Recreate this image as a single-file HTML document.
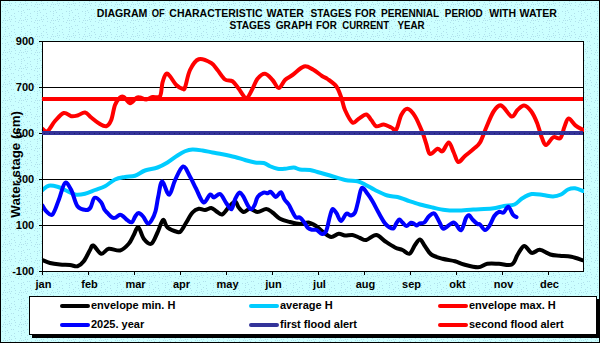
<!DOCTYPE html>
<html><head><meta charset="utf-8"><style>
html,body{margin:0;padding:0;width:600px;height:343px;overflow:hidden;background:#fff}
svg{display:block}
text{font-family:"Liberation Sans",sans-serif;font-weight:bold;fill:#000}
</style></head><body>
<svg width="600" height="343" viewBox="0 0 600 343">
<defs>
<pattern id="dots" width="16" height="16" patternUnits="userSpaceOnUse"><rect width="16" height="16" fill="#CCFFFF"/><rect x="4" y="2" width="1" height="1" fill="#B0E0EB"/><rect x="5" y="11" width="1" height="1" fill="#B0E0EB"/><rect x="8" y="12" width="1" height="1" fill="#B0E0EB"/><rect x="10" y="5" width="1" height="1" fill="#B0E0EB"/><rect x="5" y="15" width="1" height="1" fill="#B0E0EB"/><rect x="15" y="5" width="1" height="1" fill="#B0E0EB"/><rect x="2" y="6" width="1" height="1" fill="#B0E0EB"/><rect x="14" y="13" width="1" height="1" fill="#B0E0EB"/><rect x="11" y="3" width="1" height="1" fill="#B0E0EB"/><rect x="11" y="15" width="1" height="1" fill="#B0E0EB"/><rect x="2" y="11" width="1" height="1" fill="#B0E0EB"/><rect x="5" y="4" width="1" height="1" fill="#B0E0EB"/><rect x="5" y="7" width="1" height="1" fill="#B0E0EB"/><rect x="13" y="9" width="1" height="1" fill="#B0E0EB"/><rect x="11" y="9" width="1" height="1" fill="#B0E0EB"/><rect x="15" y="2" width="1" height="1" fill="#B0E0EB"/><rect x="7" y="10" width="1" height="1" fill="#B0E0EB"/><rect x="5" y="13" width="1" height="1" fill="#B0E0EB"/><rect x="3" y="4" width="1" height="1" fill="#B0E0EB"/><rect x="9" y="1" width="1" height="1" fill="#B0E0EB"/><rect x="7" y="4" width="1" height="1" fill="#B0E0EB"/><rect x="9" y="3" width="1" height="1" fill="#B0E0EB"/><rect x="14" y="0" width="1" height="1" fill="#B0E0EB"/></pattern>
<clipPath id="pc"><rect x="43" y="30" width="541" height="250"/></clipPath><clipPath id="pc2"><rect x="42" y="30" width="542" height="250"/></clipPath>
</defs>
<rect x="0.5" y="0.5" width="599" height="342" fill="url(#dots)" stroke="#000" stroke-width="1"/>
<g font-size="10.5"><text x="96.89" y="16.7" textLength="50.53" lengthAdjust="spacingAndGlyphs">DIAGRAM</text><text x="151.75" y="16.7" textLength="13.03" lengthAdjust="spacingAndGlyphs">OF</text><text x="169.30" y="16.7" textLength="93.29" lengthAdjust="spacingAndGlyphs">CHARACTERISTIC</text><text x="266.50" y="16.7" textLength="37.39" lengthAdjust="spacingAndGlyphs">WATER</text><text x="310.50" y="16.7" textLength="41.14" lengthAdjust="spacingAndGlyphs">STAGES</text><text x="355.06" y="16.7" textLength="20.85" lengthAdjust="spacingAndGlyphs">FOR</text><text x="381.04" y="16.7" textLength="58.12" lengthAdjust="spacingAndGlyphs">PERENNIAL</text><text x="444.81" y="16.7" textLength="37.94" lengthAdjust="spacingAndGlyphs">PERIOD</text><text x="489.25" y="16.7" textLength="26.83" lengthAdjust="spacingAndGlyphs">WITH</text><text x="519.50" y="16.7" textLength="37.39" lengthAdjust="spacingAndGlyphs">WATER</text><text x="229.50" y="28.7" textLength="41.14" lengthAdjust="spacingAndGlyphs">STAGES</text><text x="275.75" y="28.7" textLength="36.44" lengthAdjust="spacingAndGlyphs">GRAPH</text><text x="316.06" y="28.7" textLength="20.80" lengthAdjust="spacingAndGlyphs">FOR</text><text x="342.30" y="28.7" textLength="46.76" lengthAdjust="spacingAndGlyphs">CURRENT</text><text x="397.40" y="28.7" textLength="27.17" lengthAdjust="spacingAndGlyphs">YEAR</text></g>
<rect x="42.5" y="41.5" width="541" height="230" fill="#fff"/>
<g stroke="#000" stroke-width="1"><line x1="42" y1="87.5" x2="584" y2="87.5"/><line x1="42" y1="133.5" x2="584" y2="133.5"/><line x1="42" y1="179.5" x2="584" y2="179.5"/><line x1="42" y1="225.5" x2="584" y2="225.5"/><line x1="39" y1="41.5" x2="42" y2="41.5"/><line x1="39" y1="87.5" x2="42" y2="87.5"/><line x1="39" y1="133.5" x2="42" y2="133.5"/><line x1="39" y1="179.5" x2="42" y2="179.5"/><line x1="39" y1="225.5" x2="42" y2="225.5"/><line x1="39" y1="271.5" x2="42" y2="271.5"/><line x1="42.5" y1="271" x2="42.5" y2="275"/><line x1="88.5" y1="271" x2="88.5" y2="275"/><line x1="134.5" y1="271" x2="134.5" y2="275"/><line x1="180.5" y1="271" x2="180.5" y2="275"/><line x1="226.5" y1="271" x2="226.5" y2="275"/><line x1="272.5" y1="271" x2="272.5" y2="275"/><line x1="318.5" y1="271" x2="318.5" y2="275"/><line x1="364.5" y1="271" x2="364.5" y2="275"/><line x1="410.5" y1="271" x2="410.5" y2="275"/><line x1="456.5" y1="271" x2="456.5" y2="275"/><line x1="502.5" y1="271" x2="502.5" y2="275"/><line x1="548.5" y1="271" x2="548.5" y2="275"/></g>
<rect x="42.5" y="41.5" width="541" height="230" fill="none" stroke="#000" stroke-width="1"/>
<g font-size="11" text-anchor="end"><text x="34.2" y="45.2">900</text><text x="34.2" y="91.2">700</text><text x="34.2" y="137.2">500</text><text x="34.2" y="183.2">300</text><text x="34.2" y="229.2">100</text><text x="34.2" y="275.2">-100</text></g>
<g font-size="11" text-anchor="middle"><text x="43.5" y="288">jan</text><text x="89.5" y="288">feb</text><text x="135.5" y="288">mar</text><text x="181.5" y="288">apr</text><text x="227.5" y="288">may</text><text x="273.5" y="288">jun</text><text x="319.5" y="288">jul</text><text x="365.5" y="288">aug</text><text x="411.5" y="288">sep</text><text x="457.5" y="288">okt</text><text x="503.5" y="288">nov</text><text x="549.5" y="288">dec</text></g>
<text font-size="13.3" text-anchor="middle" transform="translate(20.3 164.3) rotate(-90)">Water stage (cm)</text>
<g fill="none" stroke-linejoin="round" stroke-linecap="round" clip-path="url(#pc)">
<path d="M42.50 260.00 C43.75 260.50 47.08 262.25 50.00 263.00 C52.92 263.75 56.67 264.17 60.00 264.50 C63.33 264.83 67.08 264.71 70.00 265.00 C72.92 265.29 75.21 266.88 77.50 266.25 C79.79 265.62 81.67 263.96 83.75 261.25 C85.83 258.54 88.42 252.62 90.00 250.00 C91.58 247.38 91.38 244.88 93.25 245.50 C95.12 246.12 98.67 253.21 101.25 253.75 C103.83 254.29 105.62 249.29 108.75 248.75 C111.88 248.21 116.67 251.33 120.00 250.50 C123.33 249.67 126.46 246.33 128.75 243.75 C131.04 241.17 132.17 237.79 133.75 235.00 C135.33 232.21 136.58 226.38 138.25 227.00 C139.92 227.62 141.58 235.96 143.75 238.75 C145.92 241.54 148.96 244.79 151.25 243.75 C153.54 242.71 155.54 236.46 157.50 232.50 C159.46 228.54 161.33 220.83 163.00 220.00 C164.67 219.17 165.08 225.50 167.50 227.50 C169.92 229.50 175.25 231.42 177.50 232.00 C179.75 232.58 179.54 232.58 181.00 231.00 C182.46 229.42 184.33 225.58 186.25 222.50 C188.17 219.42 190.42 214.79 192.50 212.50 C194.58 210.21 196.67 209.17 198.75 208.75 C200.83 208.33 202.92 210.12 205.00 210.00 C207.08 209.88 209.38 207.79 211.25 208.00 C213.12 208.21 214.46 210.17 216.25 211.25 C218.04 212.33 219.96 215.12 222.00 214.50 C224.04 213.88 226.33 209.67 228.50 207.50 C230.67 205.33 233.29 201.50 235.00 201.50 C236.71 201.50 237.29 205.75 238.75 207.50 C240.21 209.25 241.88 211.79 243.75 212.00 C245.62 212.21 247.71 208.75 250.00 208.75 C252.29 208.75 254.79 211.96 257.50 212.00 C260.21 212.04 263.75 208.92 266.25 209.00 C268.75 209.08 270.21 210.88 272.50 212.50 C274.79 214.12 277.08 217.17 280.00 218.75 C282.92 220.33 286.67 221.12 290.00 222.00 C293.33 222.88 296.92 223.92 300.00 224.00 C303.08 224.08 305.83 222.17 308.50 222.50 C311.17 222.83 313.46 224.33 316.00 226.00 C318.54 227.67 321.21 230.67 323.75 232.50 C326.29 234.33 328.75 236.79 331.25 237.00 C333.75 237.21 336.46 234.00 338.75 233.75 C341.04 233.50 342.71 235.29 345.00 235.50 C347.29 235.71 350.00 234.58 352.50 235.00 C355.00 235.42 357.71 237.17 360.00 238.00 C362.29 238.83 363.54 240.50 366.25 240.00 C368.96 239.50 373.12 234.79 376.25 235.00 C379.38 235.21 381.88 239.17 385.00 241.25 C388.12 243.33 392.08 246.04 395.00 247.50 C397.92 248.96 400.08 248.96 402.50 250.00 C404.92 251.04 407.42 254.58 409.50 253.75 C411.58 252.92 413.25 247.38 415.00 245.00 C416.75 242.62 418.33 239.29 420.00 239.50 C421.67 239.71 423.12 243.75 425.00 246.25 C426.88 248.75 428.33 252.42 431.25 254.50 C434.17 256.58 438.54 257.62 442.50 258.75 C446.46 259.88 451.42 260.29 455.00 261.25 C458.58 262.21 460.17 263.49 464.00 264.50 C467.83 265.51 474.12 267.42 478.00 267.30 C481.88 267.18 483.80 264.38 487.30 263.80 C490.80 263.22 494.92 263.68 499.00 263.80 C503.08 263.92 508.68 266.05 511.80 264.50 C514.92 262.95 515.63 257.60 517.70 254.50 C519.77 251.40 521.87 246.17 524.20 245.90 C526.53 245.63 529.10 252.25 531.70 252.90 C534.30 253.55 536.70 249.53 539.80 249.80 C542.90 250.07 546.98 253.52 550.30 254.50 C553.62 255.48 556.20 255.32 559.70 255.70 C563.20 256.08 567.42 256.03 571.30 256.80 C575.18 257.57 581.05 259.72 583.00 260.30" stroke="#000" stroke-width="4"/>
<path d="M42.50 190.00 C43.54 189.29 46.25 186.29 48.75 185.75 C51.25 185.21 54.79 186.04 57.50 186.75 C60.21 187.46 62.08 188.71 65.00 190.00 C67.92 191.29 71.67 193.88 75.00 194.50 C78.33 195.12 81.67 194.50 85.00 193.75 C88.33 193.00 91.67 191.25 95.00 190.00 C98.33 188.75 101.67 188.00 105.00 186.25 C108.33 184.50 111.67 181.04 115.00 179.50 C118.33 177.96 121.67 177.62 125.00 177.00 C128.33 176.38 131.67 176.83 135.00 175.75 C138.33 174.67 141.25 171.88 145.00 170.50 C148.75 169.12 153.75 168.83 157.50 167.50 C161.25 166.17 164.17 164.50 167.50 162.50 C170.83 160.50 174.58 157.38 177.50 155.50 C180.42 153.62 182.50 152.25 185.00 151.25 C187.50 150.25 189.58 149.62 192.50 149.50 C195.42 149.38 199.17 150.00 202.50 150.50 C205.83 151.00 209.17 151.88 212.50 152.50 C215.83 153.12 218.75 153.50 222.50 154.25 C226.25 155.00 231.25 156.04 235.00 157.00 C238.75 157.96 241.67 159.08 245.00 160.00 C248.33 160.92 251.88 162.00 255.00 162.50 C258.12 163.00 261.25 162.38 263.75 163.00 C266.25 163.62 267.71 165.29 270.00 166.25 C272.29 167.21 275.00 168.33 277.50 168.75 C280.00 169.17 282.29 168.96 285.00 168.75 C287.71 168.54 291.25 167.38 293.75 167.50 C296.25 167.62 297.29 169.08 300.00 169.50 C302.71 169.92 307.08 169.58 310.00 170.00 C312.92 170.42 314.17 171.08 317.50 172.00 C320.83 172.92 325.42 174.17 330.00 175.50 C334.58 176.83 340.42 179.04 345.00 180.00 C349.58 180.96 354.17 180.50 357.50 181.25 C360.83 182.00 362.08 183.04 365.00 184.50 C367.92 185.96 371.25 188.17 375.00 190.00 C378.75 191.83 383.75 194.33 387.50 195.50 C391.25 196.67 394.17 196.17 397.50 197.00 C400.83 197.83 403.75 199.25 407.50 200.50 C411.25 201.75 415.83 203.33 420.00 204.50 C424.17 205.67 428.33 206.58 432.50 207.50 C436.67 208.42 440.83 209.50 445.00 210.00 C449.17 210.50 452.78 210.58 457.50 210.50 C462.22 210.42 467.55 209.83 473.30 209.50 C479.05 209.17 486.88 209.08 492.00 208.50 C497.12 207.92 500.25 206.67 504.00 206.00 C507.75 205.33 511.45 205.78 514.50 204.50 C517.55 203.22 519.43 200.05 522.30 198.30 C525.17 196.55 528.25 194.55 531.70 194.00 C535.15 193.45 539.45 194.58 543.00 195.00 C546.55 195.42 550.00 196.58 553.00 196.50 C556.00 196.42 558.50 195.67 561.00 194.50 C563.50 193.33 565.67 190.53 568.00 189.50 C570.33 188.47 572.50 188.05 575.00 188.30 C577.50 188.55 581.67 190.55 583.00 191.00" stroke="#00CCFF" stroke-width="4"/>
<path d="M42.50 128.75 C43.33 129.17 45.42 132.54 47.50 131.25 C49.58 129.96 52.29 124.04 55.00 121.00 C57.71 117.96 61.04 113.79 63.75 113.00 C66.46 112.21 68.96 115.83 71.25 116.25 C73.54 116.67 75.21 116.12 77.50 115.50 C79.79 114.88 82.71 112.17 85.00 112.50 C87.29 112.83 88.96 115.71 91.25 117.50 C93.54 119.29 96.25 121.79 98.75 123.25 C101.25 124.71 104.17 126.79 106.25 126.25 C108.33 125.71 109.79 123.54 111.25 120.00 C112.71 116.46 113.54 108.75 115.00 105.00 C116.46 101.25 118.54 98.83 120.00 97.50 C121.46 96.17 122.08 96.04 123.75 97.00 C125.42 97.96 127.92 103.08 130.00 103.25 C132.08 103.42 134.58 98.96 136.25 98.00 C137.92 97.04 138.33 97.25 140.00 97.50 C141.67 97.75 144.17 99.58 146.25 99.50 C148.33 99.42 150.21 97.54 152.50 97.00 C154.79 96.46 158.33 98.67 160.00 96.25 C161.67 93.83 161.46 86.25 162.50 82.50 C163.54 78.75 165.00 74.79 166.25 73.75 C167.50 72.71 168.33 74.38 170.00 76.25 C171.67 78.12 174.17 82.92 176.25 85.00 C178.33 87.08 181.04 88.33 182.50 88.75 C183.96 89.17 183.75 90.62 185.00 87.50 C186.25 84.38 187.71 74.71 190.00 70.00 C192.29 65.29 195.21 60.42 198.75 59.25 C202.29 58.08 208.12 61.21 211.25 63.00 C214.38 64.79 215.21 67.25 217.50 70.00 C219.79 72.75 222.50 77.62 225.00 79.50 C227.50 81.38 230.21 79.71 232.50 81.25 C234.79 82.79 236.46 85.96 238.75 88.75 C241.04 91.54 243.96 98.00 246.25 98.00 C248.54 98.00 250.62 91.96 252.50 88.75 C254.38 85.54 255.42 81.25 257.50 78.75 C259.58 76.25 262.50 73.54 265.00 73.75 C267.50 73.96 270.21 77.62 272.50 80.00 C274.79 82.38 276.67 88.00 278.75 88.00 C280.83 88.00 282.71 82.17 285.00 80.00 C287.29 77.83 289.33 77.25 292.50 75.00 C295.67 72.75 300.58 67.42 304.00 66.50 C307.42 65.58 310.00 67.92 313.00 69.50 C316.00 71.08 319.58 74.42 322.00 76.00 C324.42 77.58 325.12 77.29 327.50 79.00 C329.88 80.71 333.96 83.17 336.25 86.25 C338.54 89.33 339.79 93.54 341.25 97.50 C342.71 101.46 343.12 105.83 345.00 110.00 C346.88 114.17 350.21 121.04 352.50 122.50 C354.79 123.96 356.46 120.08 358.75 118.75 C361.04 117.42 364.17 114.29 366.25 114.50 C368.33 114.71 369.58 118.04 371.25 120.00 C372.92 121.96 374.17 125.50 376.25 126.25 C378.33 127.00 381.25 124.29 383.75 124.50 C386.25 124.71 389.17 126.67 391.25 127.50 C393.33 128.33 394.58 131.58 396.25 129.50 C397.92 127.42 399.38 118.46 401.25 115.00 C403.12 111.54 405.21 108.54 407.50 108.75 C409.79 108.96 412.50 112.29 415.00 116.25 C417.50 120.21 420.62 127.92 422.50 132.50 C424.38 137.08 425.00 140.17 426.25 143.75 C427.50 147.33 428.12 153.17 430.00 154.00 C431.88 154.83 435.42 149.21 437.50 148.75 C439.58 148.29 440.62 152.29 442.50 151.25 C444.38 150.21 446.88 142.29 448.75 142.50 C450.62 142.71 452.17 149.25 453.75 152.50 C455.33 155.75 456.38 161.42 458.25 162.00 C460.12 162.58 462.42 158.21 465.00 156.00 C467.58 153.79 471.25 151.00 473.75 148.75 C476.25 146.50 477.92 146.04 480.00 142.50 C482.08 138.96 483.96 132.71 486.25 127.50 C488.54 122.29 491.25 114.92 493.75 111.25 C496.25 107.58 498.29 104.62 501.25 105.50 C504.21 106.38 508.79 115.75 511.50 116.50 C514.21 117.25 515.42 111.83 517.50 110.00 C519.58 108.17 521.75 105.33 524.00 105.50 C526.25 105.67 528.83 108.13 531.00 111.00 C533.17 113.87 535.17 118.20 537.00 122.70 C538.83 127.20 540.50 134.28 542.00 138.00 C543.50 141.72 544.12 145.12 546.00 145.00 C547.88 144.88 550.90 138.47 553.30 137.30 C555.70 136.13 558.53 139.77 560.40 138.00 C562.27 136.23 563.13 129.93 564.50 126.70 C565.87 123.47 566.73 118.77 568.60 118.60 C570.47 118.43 573.30 123.83 575.70 125.70 C578.10 127.57 581.78 129.12 583.00 129.80" stroke="#FF0000" stroke-width="4"/>
<path d="M42.50 205.50 C43.12 206.46 44.58 209.75 46.25 211.25 C47.92 212.75 50.42 216.38 52.50 214.50 C54.58 212.62 56.67 205.25 58.75 200.00 C60.83 194.75 62.92 184.67 65.00 183.00 C67.08 181.33 69.17 186.12 71.25 190.00 C73.33 193.88 75.00 202.92 77.50 206.25 C80.00 209.58 84.08 209.79 86.25 210.00 C88.42 210.21 89.11 209.53 90.50 207.50 C91.89 205.47 92.83 198.68 94.60 197.80 C96.37 196.92 99.47 200.25 101.10 202.20 C102.73 204.15 103.30 207.67 104.40 209.50 C105.50 211.33 106.38 211.85 107.70 213.20 C109.02 214.55 110.98 216.87 112.30 217.60 C113.62 218.33 114.30 218.08 115.60 217.60 C116.90 217.12 118.68 214.78 120.10 214.70 C121.52 214.62 122.88 216.18 124.10 217.10 C125.32 218.02 126.10 219.35 127.40 220.20 C128.70 221.05 130.60 222.82 131.90 222.20 C133.20 221.58 134.10 218.03 135.20 216.50 C136.30 214.97 137.18 213.00 138.50 213.00 C139.82 213.00 141.57 214.75 143.10 216.50 C144.63 218.25 146.28 222.88 147.70 223.50 C149.12 224.12 150.30 222.25 151.60 220.20 C152.90 218.15 154.40 215.10 155.50 211.20 C156.60 207.30 157.10 201.75 158.20 196.80 C159.30 191.85 160.28 181.83 162.10 181.50 C163.92 181.17 166.95 195.00 169.10 194.80 C171.25 194.60 172.67 185.02 175.00 180.30 C177.33 175.58 180.58 167.08 183.10 166.50 C185.62 165.92 187.95 173.13 190.10 176.80 C192.25 180.47 193.77 184.22 196.00 188.50 C198.23 192.78 201.17 201.50 203.50 202.50 C205.83 203.50 208.25 195.33 210.00 194.50 C211.75 193.67 212.30 197.58 214.00 197.50 C215.70 197.42 218.17 193.08 220.20 194.00 C222.23 194.92 224.32 200.45 226.20 203.00 C228.08 205.55 230.02 209.95 231.50 209.30 C232.98 208.65 233.77 201.88 235.10 199.10 C236.43 196.32 238.17 193.08 239.50 192.60 C240.83 192.12 241.77 194.15 243.10 196.20 C244.43 198.25 246.17 202.72 247.50 204.90 C248.83 207.08 249.90 209.30 251.10 209.30 C252.30 209.30 253.60 206.97 254.70 204.90 C255.80 202.83 256.23 198.95 257.70 196.90 C259.17 194.85 261.82 193.20 263.50 192.60 C265.18 192.00 266.58 193.43 267.80 193.30 C269.02 193.17 269.45 191.20 270.80 191.80 C272.15 192.40 274.22 196.83 275.90 196.90 C277.58 196.97 279.48 191.82 280.90 192.20 C282.32 192.58 283.10 197.15 284.40 199.20 C285.70 201.25 287.53 202.75 288.70 204.50 C289.87 206.25 290.23 207.58 291.40 209.70 C292.57 211.82 294.25 215.88 295.70 217.20 C297.15 218.52 298.63 216.67 300.10 217.60 C301.57 218.53 303.18 221.05 304.50 222.80 C305.82 224.55 306.70 226.93 308.00 228.10 C309.30 229.27 310.85 229.48 312.30 229.80 C313.75 230.12 315.08 229.30 316.70 230.00 C318.32 230.70 320.40 233.88 322.00 234.00 C323.60 234.12 325.00 233.58 326.30 230.70 C327.60 227.82 328.75 220.32 329.80 216.70 C330.85 213.08 331.48 209.58 332.60 209.00 C333.72 208.42 335.10 211.20 336.50 213.20 C337.90 215.20 339.38 220.91 341.00 221.00 C342.62 221.09 344.58 214.67 346.25 213.75 C347.92 212.83 349.54 215.71 351.00 215.50 C352.46 215.29 353.83 214.75 355.00 212.50 C356.17 210.25 356.88 206.08 358.00 202.00 C359.12 197.92 360.17 189.38 361.75 188.00 C363.33 186.62 365.71 191.54 367.50 193.75 C369.29 195.96 370.67 198.12 372.50 201.25 C374.33 204.38 376.47 208.88 378.50 212.50 C380.53 216.12 382.90 220.55 384.70 223.00 C386.50 225.45 387.85 226.30 389.30 227.20 C390.75 228.10 392.23 229.05 393.40 228.40 C394.57 227.75 395.32 224.78 396.30 223.30 C397.28 221.82 398.32 219.68 399.30 219.50 C400.28 219.32 401.03 221.12 402.20 222.20 C403.37 223.28 404.85 225.90 406.30 226.00 C407.75 226.10 409.55 223.13 410.90 222.80 C412.25 222.47 413.42 223.55 414.40 224.00 C415.38 224.45 415.92 225.62 416.80 225.50 C417.68 225.38 418.45 223.80 419.70 223.30 C420.95 222.80 422.75 223.67 424.30 222.50 C425.85 221.33 427.33 217.82 429.00 216.30 C430.67 214.78 432.55 212.42 434.30 213.40 C436.05 214.38 437.93 219.64 439.50 222.20 C441.07 224.76 441.38 228.70 443.75 228.75 C446.12 228.80 450.88 222.25 453.75 222.50 C456.62 222.75 458.96 231.00 461.00 230.25 C463.04 229.50 464.67 220.51 466.00 218.00 C467.33 215.49 467.83 214.87 469.00 215.20 C470.17 215.53 471.58 218.53 473.00 220.00 C474.42 221.47 476.33 223.25 477.50 224.00 C478.67 224.75 478.75 223.50 480.00 224.50 C481.25 225.50 483.38 229.87 485.00 230.00 C486.62 230.13 488.15 227.63 489.70 225.30 C491.25 222.97 492.75 218.25 494.30 216.00 C495.85 213.75 497.43 212.38 499.00 211.80 C500.57 211.22 502.15 213.35 503.70 212.50 C505.25 211.65 506.75 206.32 508.30 206.70 C509.85 207.08 511.63 213.05 513.00 214.80 C514.37 216.55 515.92 216.80 516.50 217.20" stroke="#0000FF" stroke-width="4"/>
</g>
<rect x="42" y="131" width="541" height="4" fill="#333399"/>
<line x1="44" y1="133.5" x2="583" y2="133.5" stroke="#1E1E66" stroke-width="1" stroke-dasharray="1 4"/>
<rect x="42" y="97" width="541" height="4" fill="#FF0000"/>
<rect x="32" y="299" width="568" height="39" fill="#000"/>
<rect x="29.5" y="296.5" width="567" height="38" fill="#fff" stroke="#000" stroke-width="1"/>
<g stroke-width="4" stroke-linecap="round">
<line x1="62" y1="306" x2="88" y2="306" stroke="#000"/>
<line x1="251" y1="306" x2="277" y2="306" stroke="#00CCFF"/>
<line x1="440" y1="306" x2="466" y2="306" stroke="#FF0000"/>
<line x1="62" y1="325" x2="88" y2="325" stroke="#0000FF"/>
<line x1="251" y1="325" x2="277" y2="325" stroke="#333399"/>
<line x1="440" y1="325" x2="466" y2="325" stroke="#FF0000"/>
</g>
<g font-size="11">
<text x="91" y="308.5">envelope min. H</text>
<text x="280" y="308.5">average H</text>
<text x="469" y="308.5">envelope max. H</text>
<text x="91" y="327.7">2025. year</text>
<text x="280" y="327.7">first flood alert</text>
<text x="469" y="327.7">second flood alert</text>
</g>
</svg>
</body></html>
